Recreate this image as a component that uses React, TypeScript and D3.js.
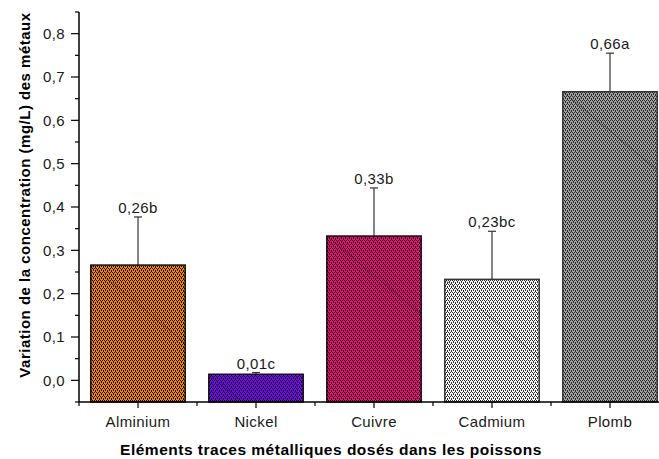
import * as d3 from "d3";

const categories = ["Alminium", "Nickel", "Cuivre", "Cadmium", "Plomb"];
const means = [0.266, 0.014, 0.333, 0.233, 0.666];
const errors = [0.111, 0.004, 0.111, 0.111, 0.089];
const letters = ["0,26b", "0,01c", "0,33b", "0,23bc", "0,66a"];
const fills = ["#ff8000", "#7f00ff", "#ff0080", "#ffffff", "#a0a0a0"];
const inks = ["#000000", "#000000", "#000000", "#2a2a2a", "#2a2a2a"];
const majorTicks = [0, 0.1, 0.2, 0.3, 0.4, 0.5, 0.6, 0.7, 0.8];
const minorTicks = [-0.05, 0.05, 0.15, 0.25, 0.35, 0.45, 0.55, 0.65, 0.75, 0.85];

const W = 659;
const H = 459;
const FONT = "'Liberation Sans', Arial, sans-serif";

// dots of the cross-hatch tile (4x4)
const dots = [[0, 0], [2, 0], [1, 1], [1, 2], [3, 2], [3, 3]];

export default function App() {
  // plot area runs past the right edge, like the cropped original
  const x = d3.scaleBand<string>().domain(categories).range([79, 669]).paddingInner(0.2).paddingOuter(0.1);
  const y = d3.scaleLinear().domain([-0.05, 0.85]).range([402, 12]);
  const fmt = (v: number) => d3.format(".1f")(v).replace(".", ",");
  const step = x.step();
  const mids = categories.slice(0, -1).map((c) => (x(c) as number) + x.bandwidth() / 2 + step / 2);

  return (
    <svg width={W} height={H} style={{ position: "absolute", left: 0, top: 0, background: "#fff" }} fontFamily={FONT}>
      <defs>
        {categories.map((c, i) => (
          <pattern key={c} id={`hatch${i}`} patternUnits="userSpaceOnUse" width={4} height={4}>
            <rect width={4} height={4} fill={fills[i]} />
            {dots.map(([px, py], k) => (
              <rect key={k} x={px} y={py} width={1} height={1} fill={inks[i]} />
            ))}
          </pattern>
        ))}
        {categories.map((c, i) => (
          <clipPath key={c} id={`clip${i}`}>
            <rect x={x(c)} y={y(means[i])} width={x.bandwidth()} height={y(0) - y(means[i]) + 22} />
          </clipPath>
        ))}
      </defs>

      {/* bars */}
      {categories.map((c, i) => {
        const bx = x(c) as number;
        const by = y(means[i]);
        const bh = y(-0.05) - by;
        const cx = bx + x.bandwidth() / 2;
        const top = y(means[i] + errors[i]);
        return (
          <g key={c}>
            <line x1={cx} x2={cx} y1={by} y2={top} stroke="#333" strokeWidth={1.2} />
            <line x1={cx - 4} x2={cx + 4} y1={top} y2={top} stroke="#333" strokeWidth={1.2} />
            <rect x={bx} y={by} width={x.bandwidth()} height={bh} fill={`url(#hatch${i})`} stroke={inks[i] === "#000000" ? "#111" : "#333"} strokeWidth={1.5} />
            <line x1={bx} y1={by} x2={bx + x.bandwidth()} y2={by + x.bandwidth() * 0.83} stroke="#000" strokeOpacity={0.45} strokeWidth={0.8} clipPath={`url(#clip${i})`} />
            <text x={cx} y={top - 4} textAnchor="middle" fontSize={15} letterSpacing={0.4} fill="#1a1a1a">{letters[i]}</text>
          </g>
        );
      })}

      {/* y axis */}
      <line x1={79} x2={79} y1={y(0.85)} y2={y(-0.05)} stroke="#000" strokeWidth={1.5} />
      {majorTicks.map((t) => (
        <g key={t}>
          <line x1={71} x2={79} y1={y(t)} y2={y(t)} stroke="#000" strokeWidth={1.2} />
          <text x={65} y={y(t)} dy="0.35em" textAnchor="end" fontSize={15} letterSpacing={0.4} fill="#1a1a1a">{fmt(t)}</text>
        </g>
      ))}
      {minorTicks.map((t) => (
        <line key={t} x1={75} x2={79} y1={y(t)} y2={y(t)} stroke="#000" strokeWidth={1.2} />
      ))}

      {/* x axis */}
      <line x1={79} x2={W} y1={402} y2={402} stroke="#000" strokeWidth={1.5} />
      <line x1={79} x2={79} y1={402} y2={406} stroke="#000" strokeWidth={1.2} />
      {categories.map((c) => {
        const cx = (x(c) as number) + x.bandwidth() / 2;
        return (
          <g key={c}>
            <line x1={cx} x2={cx} y1={402} y2={408} stroke="#000" strokeWidth={1.2} />
            <text x={cx} y={427} textAnchor="middle" fontSize={15} letterSpacing={0.4} fill="#1a1a1a">{c}</text>
          </g>
        );
      })}
      {mids.map((m, i) => (
        <line key={i} x1={m} x2={m} y1={402} y2={406} stroke="#000" strokeWidth={1.2} />
      ))}

      {/* titles */}
      <text x={331} y={455} textAnchor="middle" fontSize={15.5} letterSpacing={0.5} fontWeight="bold" fill="#000">
        Eléments traces métalliques dosés dans les poissons
      </text>
      <text transform="translate(30,195) rotate(-90)" textAnchor="middle" fontSize={15} letterSpacing={0.5} fontWeight="bold" fill="#000">
        Variation de la concentration (mg/L) des métaux
      </text>
    </svg>
  );
}
